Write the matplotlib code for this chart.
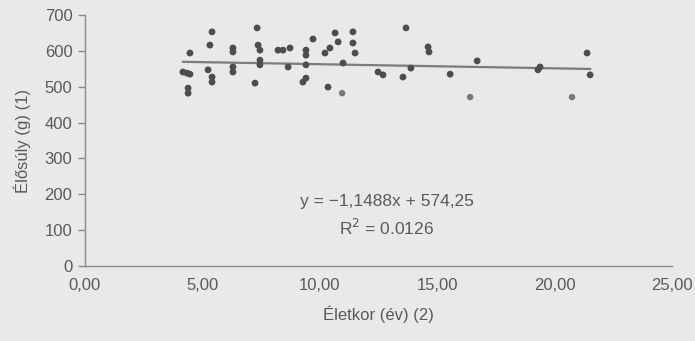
import matplotlib.pyplot as plt
import numpy as np

plt.rcParams['font.family'] = ['Liberation Sans', 'DejaVu Sans']

# age (years) and live weight (g)
age = [4.47, 4.34, 4.17, 4.47, 4.39, 4.39, 5.41, 5.32, 5.24, 5.41, 5.41,
       6.30, 6.30, 6.30, 6.30, 7.33, 7.37, 7.45, 7.45, 7.45, 7.24,
       8.22, 8.43, 8.73, 8.65, 9.41, 9.41, 9.41, 9.41, 9.28, 9.71,
       10.22, 10.43, 10.65, 10.78, 10.35, 11.41, 11.41, 11.50, 10.99,
       12.48, 13.67, 14.61, 14.65, 12.69, 13.54, 13.88, 15.55, 16.70,
       19.29, 19.38, 21.38, 21.51]
weight = [594, 538, 541, 535, 496, 482, 653, 616, 547, 527, 513,
          608, 597, 555, 541, 664, 616, 602, 574, 561, 510,
          602, 602, 608, 555, 602, 588, 561, 524, 513, 633,
          594, 608, 650, 625, 499, 653, 622, 594, 566,
          541, 664, 611, 597, 533, 527, 552, 535, 572,
          547, 555, 594, 533]

# the lighter round dots in the scan
age_light = [10.95, 16.40, 20.74]
weight_light = [482, 471, 471]

slope = -1.1488
intercept = 574.25
r2 = 0.0126

xticks = [0, 5, 10, 15, 20, 25]
xticklabels = ['0,00', '5,00', '10,00', '15,00', '20,00', '25,00']
yticks = [0, 100, 200, 300, 400, 500, 600, 700]

bg = '#e9e9e9'
txt = '#5a5a5a'

fig = plt.figure(figsize=(6.95, 3.41), dpi=100, facecolor=bg)
ax = fig.add_axes([0.1223, 0.22, 0.8447, 0.736])
ax.set_facecolor(bg)

ax.scatter(age, weight, s=24, color='#4d4d4d', edgecolors='none', zorder=3)
ax.scatter(age_light, weight_light, s=22, color='#7a7a7a', edgecolors='none', zorder=3)

all_x = np.array(age + age_light)
xl = np.array([all_x.min(), all_x.max()])
ax.plot(xl, slope * xl + intercept, color='#7c7c7c', lw=1.6, zorder=2)

ax.set_xlim(0, 25)
ax.set_ylim(0, 700)
ax.set_xticks(xticks)
ax.set_xticklabels(xticklabels)
ax.set_yticks(yticks)

for s in ['top', 'right']:
    ax.spines[s].set_visible(False)
for s in ['left', 'bottom']:
    ax.spines[s].set_color('#8a8a8a')
    ax.spines[s].set_linewidth(1.0)

ax.tick_params(axis='y', length=5, width=1, color='#8a8a8a', labelcolor=txt,
               labelsize=12, pad=4)
ax.tick_params(axis='x', length=0, labelcolor=txt, labelsize=12, pad=9)

ax.set_xlabel('Életkor (év) (2)', color=txt, fontsize=12, labelpad=9)
ax.set_ylabel('Élősúly (g) (1)', color=txt, fontsize=12, labelpad=10)

ax.text(12.86, 181, 'y = \u22121,1488x + 574,25', ha='center', va='center',
        color=txt, fontsize=12.5)
ax.text(12.86, 106, 'R$^2$ = ' + f'{r2:.4f}', ha='center', va='center',
        color=txt, fontsize=12.5)

fig.savefig('out.png', dpi=100, facecolor=bg)
